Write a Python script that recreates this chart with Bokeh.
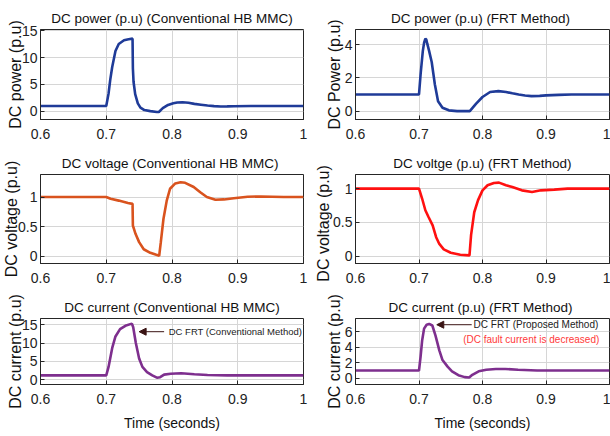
from bokeh.plotting import figure
from bokeh.layouts import gridplot
from bokeh.models import FixedTicker, CustomJSTickFormatter, Range1d, Arrow, NormalHead, Label
from bokeh.embed import file_html
from bokeh.resources import INLINE

# ---------------- data ----------------
x_ticks = [0.6, 0.7, 0.8, 0.9, 1.0]

t_pc = [0.60, 0.70, 0.7035, 0.706, 0.709, 0.714, 0.719, 0.727, 0.734, 0.740, 0.7405, 0.7415, 0.744, 0.748, 0.752,
        0.758, 0.767, 0.777, 0.780, 0.786, 0.794, 0.802, 0.808, 0.816, 0.825, 0.834, 0.844, 0.854, 0.864, 0.874,
        0.884, 0.894, 0.92, 0.95, 1.0]
p_conv = [1.0, 1.0, 3.3, 5.8, 8.2, 11.2, 12.5, 13.2, 13.4, 13.5, 8.0, 5.5, 3.2, 1.5, 0.7,
          0.25, 0.05, -0.1, -0.1, 0.6, 1.2, 1.5, 1.65, 1.7, 1.6, 1.4, 1.25, 1.1, 0.98, 0.92,
          0.93, 0.97, 1.0, 1.0, 1.0]

t_pf = [0.60, 0.70, 0.7025, 0.706, 0.708, 0.710, 0.7115, 0.713, 0.716, 0.720, 0.725, 0.730, 0.737, 0.747, 0.760,
        0.780, 0.790, 0.800, 0.812, 0.825, 0.837, 0.847, 0.857, 0.867, 0.877, 0.890, 0.900, 0.92, 0.94, 1.0]
p_frt = [1.0, 1.0, 2.2, 3.6, 4.1, 4.35, 4.3, 4.05, 3.6, 2.95, 1.6, 0.6, 0.2, 0.05, 0.0,
         0.0, 0.45, 0.85, 1.15, 1.2, 1.15, 1.07, 1.0, 0.94, 0.9, 0.92, 0.95, 0.98, 1.0, 1.0]

t_vc = [0.60, 0.70, 0.7066, 0.719, 0.733, 0.740, 0.7405, 0.7425, 0.7445, 0.75, 0.757, 0.767, 0.775, 0.7805,
        0.783, 0.787, 0.792, 0.797, 0.805, 0.813, 0.82, 0.833, 0.843, 0.853, 0.866, 0.879, 0.894, 0.915,
        0.935, 0.97, 1.0]
v_conv = [1.0, 1.0, 0.97, 0.94, 0.9, 0.885, 0.52, 0.45, 0.38, 0.24, 0.12, 0.06, 0.03, 0.01,
          0.24, 0.63, 0.94, 1.14, 1.23, 1.25, 1.24, 1.17, 1.08, 1.0, 0.955, 0.96, 0.98, 1.006,
          1.01, 1.0, 1.0]

t_vf = [0.60, 0.70, 0.705, 0.71, 0.715, 0.7215, 0.727, 0.732, 0.739, 0.75, 0.765, 0.7795, 0.782, 0.787,
        0.793, 0.80, 0.808, 0.818, 0.826, 0.837, 0.847, 0.862, 0.878, 0.892, 0.913, 0.934, 0.96, 1.0]
v_frt = [1.0, 1.0, 0.85, 0.68, 0.58, 0.455, 0.28, 0.18, 0.1, 0.05, 0.02, 0.01, 0.31, 0.65,
         0.83, 0.975, 1.05, 1.085, 1.09, 1.05, 1.025, 0.975, 0.95, 0.975, 0.985, 1.0, 1.0, 1.0]

t_ic = [0.60, 0.70, 0.7035, 0.709, 0.714, 0.721, 0.729, 0.739, 0.741, 0.745, 0.75, 0.755, 0.762, 0.77,
        0.777, 0.782, 0.788, 0.798, 0.814, 0.834, 0.854, 0.884, 0.92, 1.0]
i_conv = [1.2, 1.2, 3.5, 8.6, 11.8, 13.8, 14.7, 15.3, 14.3, 10.0, 5.8, 3.5, 2.1, 1.2,
          0.55, 0.7, 1.4, 1.65, 1.75, 1.5, 1.3, 1.2, 1.2, 1.2]

t_if = [0.60, 0.70, 0.7025, 0.705, 0.708, 0.712, 0.716, 0.721, 0.726, 0.732, 0.737, 0.745, 0.752, 0.762,
        0.772, 0.779, 0.784, 0.794, 0.806, 0.821, 0.836, 0.856, 0.886, 1.0]
i_frt = [1.0, 1.0, 2.8, 4.9, 6.4, 6.9, 7.0, 6.8, 5.5, 3.6, 2.35, 1.5, 0.9, 0.4,
         0.15, 0.1, 0.45, 0.9, 1.1, 1.2, 1.2, 1.1, 1.0, 1.0]

# annotation anchors (data units)
ann_conv_head = (0.750, 13.1)
ann_conv_tail = (0.788, 13.1)
ann_conv_text = (0.795, 13.1)
ann_frt_head = (0.728, 6.9)
ann_frt_tail = (0.783, 6.9)
ann_frt_text = (0.786, 6.9)
ann_frt_red = (0.7695, 5.0)

FONT = "'Liberation Sans', Arial, sans-serif"


def make(title, ylabel, t, y, color, yticks, yr, width, height, left, right, top, bottom,
         xlabel=None, label_standoff=-5):
    p = figure(width=width, height=height, output_backend="svg", toolbar_location=None,
               x_range=Range1d(0.6, 1.0), y_range=Range1d(*yr),
               min_border_left=left, min_border_right=right,
               min_border_top=top, min_border_bottom=bottom, title=title)
    p.line(t, y, line_color=color, line_width=2.6)
    p.title.text_font = FONT
    p.title.text_font_size = "13.5px"
    p.title.text_font_style = "normal"
    p.title.align = "center"
    p.title.text_color = "#111111"
    p.title.standoff = 8
    p.xaxis.ticker = FixedTicker(ticks=x_ticks)
    p.yaxis.ticker = FixedTicker(ticks=yticks)
    p.xaxis.formatter = CustomJSTickFormatter(code="return String(tick)")
    p.yaxis.formatter = CustomJSTickFormatter(code="return String(tick)")
    for ax in (p.xaxis[0], p.yaxis[0]):
        ax.major_label_text_font = FONT
        ax.major_label_text_font_size = "14px"
        ax.major_label_text_color = "#222222"
        ax.major_tick_in = 4
        ax.major_tick_out = 0
        ax.minor_tick_line_color = None
        ax.axis_line_color = "#262626"
        ax.major_tick_line_color = "#262626"
        ax.major_label_standoff = 3
    p.xaxis.major_label_standoff = 9
    p.yaxis.axis_label = ylabel
    p.yaxis.axis_label_text_font = FONT
    p.yaxis.axis_label_text_font_size = "16px"
    p.yaxis.axis_label_text_font_style = "normal"
    p.yaxis.axis_label_text_color = "#111111"
    p.yaxis.axis_label_standoff = label_standoff
    if xlabel:
        p.xaxis.axis_label = xlabel
        p.xaxis.axis_label_text_font = FONT
        p.xaxis.axis_label_text_font_size = "14px"
        p.xaxis.axis_label_text_font_style = "normal"
        p.xaxis.axis_label_text_color = "#111111"
        p.xaxis.axis_label_standoff = 8
    p.xgrid.grid_line_color = "#d6d6d6"
    p.ygrid.grid_line_color = "#d6d6d6"
    p.outline_line_color = "#262626"
    p.outline_line_width = 1
    p.background_fill_color = "white"
    p.border_fill_color = "white"
    return p


BLUE = "#1f3b98"
ORANGE = "#d9531e"
RED = "#ff1010"
PURPLE = "#7e2f8e"

p1 = make("DC power (p.u) (Conventional HB MMC)", "DC power (p.u)", t_pc, p_conv, BLUE,
          [0, 5, 10, 15], (-1.5, 15.2), 312, 145, 40, 9, 29, 26)
p2 = make("DC  power (p.u) (FRT Method)", "DC Power (p.u)", t_pf, p_frt, BLUE,
          [0, 2, 4], (-0.5, 4.9), 298, 145, 28, 1, 29, 26, label_standoff=-1)
p3 = make("DC  voltage (Conventional HB MMC)", "DC voltage (p.u)", t_vc, v_conv, ORANGE,
          [0, 0.5, 1], (-0.12, 1.38), 312, 145, 40, 9, 29, 27)
p4 = make("DC voltge (p.u) (FRT Method)", "DC  voltage  (p.u)", t_vf, v_frt, RED,
          [0, 0.5, 1], (-0.11, 1.21), 298, 145, 28, 1, 29, 27, label_standoff=-2)
p5 = make("DC current (Conventional HB MMC)", "DC current (p.u)", t_ic, i_conv, PURPLE,
          [0, 5, 10, 15], (-1.3, 16.7), 312, 146, 40, 9, 28, 52, xlabel="Time (seconds)")
p6 = make("DC  current (p.u) (FRT Method)", "DC current (p.u)", t_if, i_frt, PURPLE,
          [0, 2, 4, 6], (-0.8, 7.7), 298, 146, 28, 1, 28, 52, xlabel="Time (seconds)",
          label_standoff=-1)

ARROW_C = "#3a1414"
p5.add_layout(Arrow(end=NormalHead(size=7, fill_color=ARROW_C, line_color=ARROW_C),
                    x_start=ann_conv_tail[0], y_start=ann_conv_tail[1],
                    x_end=ann_conv_head[0], y_end=ann_conv_head[1],
                    line_color=ARROW_C, line_width=1))
p5.add_layout(Label(x=ann_conv_text[0], y=ann_conv_text[1], text="DC FRT (Conventional Method)",
                    text_font=FONT, text_font_size="9.5px", text_baseline="middle",
                    text_color="#222222"))
p6.add_layout(Arrow(end=NormalHead(size=7, fill_color=ARROW_C, line_color=ARROW_C),
                    x_start=ann_frt_tail[0], y_start=ann_frt_tail[1],
                    x_end=ann_frt_head[0], y_end=ann_frt_head[1],
                    line_color=ARROW_C, line_width=1))
p6.add_layout(Label(x=ann_frt_text[0], y=ann_frt_text[1], text="DC FRT (Proposed Method)",
                    text_font=FONT, text_font_size="10px", text_baseline="middle",
                    text_color="#222222"))
p6.add_layout(Label(x=ann_frt_red[0], y=ann_frt_red[1], text="(DC fault current is decreased)",
                    text_font=FONT, text_font_size="10px", text_baseline="middle",
                    text_color="#ff3a3a"))

grid = gridplot([[p1, p2], [p3, p4], [p5, p6]], toolbar_location=None)
open("out.html", "w").write(file_html(grid, INLINE))
